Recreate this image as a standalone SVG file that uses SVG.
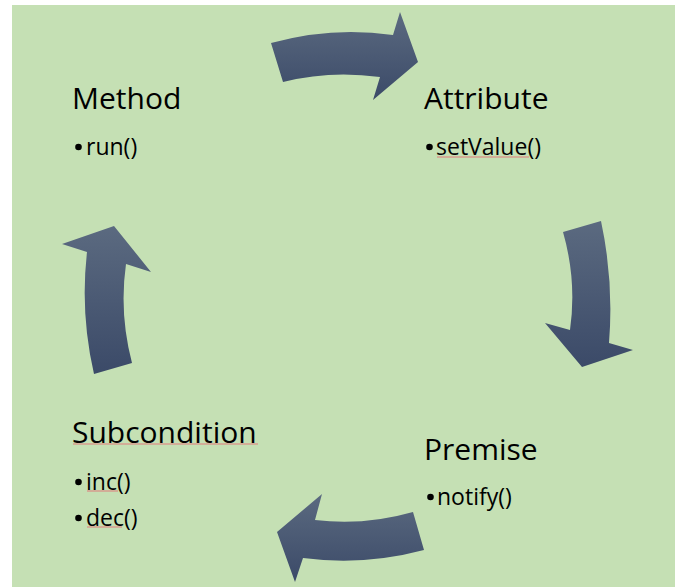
<svg xmlns="http://www.w3.org/2000/svg" width="675" height="587" viewBox="0 0 675 587">
<defs>
<linearGradient id="ag" x1="0" y1="0" x2="0" y2="1">
<stop offset="0" stop-color="#5b6a80"/>
<stop offset="1" stop-color="#3b4a68"/>
</linearGradient>
<style>
.h{font-family:"Open Sans","Liberation Sans",sans-serif;font-size:30px;fill:#000}
.b{font-family:"Open Sans","Liberation Sans",sans-serif;font-size:23px;fill:#000}
.dot{fill:#000}
.arr{fill:url(#ag)}
.sq{stroke:#e07a7a;stroke-width:1;fill:none}
</style>
</defs>
<rect x="0" y="0" width="675" height="587" fill="#ffffff"/>
<rect x="12" y="5" width="663" height="582" fill="#c5e0b4"/>
<g id="connectors">
<path class="arr" d="M 271 43 Q 332 26 393 35 L 400 12 L 418 62 L 373 100 L 380 77 Q 330 70 283 82 Z"/>
<path class="arr" d="M 563 232 L 601 221 Q 614 282 609 343 L 633 350 L 582 367 L 545 323 L 570 330 Q 577 281 563 232 Z"/>
<path class="arr" d="M 413 512 L 424 550 Q 364 566 303 558 L 295 582 L 277 532 L 322 494 L 315 520 Q 364 526 413 512 Z"/>
<path class="arr" d="M 94 374 L 132 363 Q 119 313 126 264 L 151 272 L 114 226 L 62 244 L 87 252 Q 80 313 94 374 Z"/>
</g>
<g id="method">
<text class="h" x="72" y="109">Method</text>
<circle class="dot" cx="78.5" cy="147" r="3.3"/>
<text class="b" x="86" y="155">run()</text>
</g>
<g id="attribute">
<text class="h" x="424" y="109">Attribute</text>
<circle class="dot" cx="429.5" cy="147" r="3.3"/>
<text class="b" x="436" y="155">setValue()</text>
<line class="sq" x1="437" y1="157" x2="529" y2="157"/>
</g>
<g id="premise">
<text class="h" x="424" y="460">Premise</text>
<circle class="dot" cx="430.5" cy="497" r="3.3"/>
<text class="b" x="437" y="505">notify()</text>
</g>
<g id="subcondition">
<text class="h" x="72" y="443">Subcondition</text>
<line class="sq" x1="73" y1="444" x2="258" y2="444"/>
<circle class="dot" cx="78.5" cy="482" r="3.3"/>
<text class="b" x="86" y="490">inc()</text>
<line class="sq" x1="87" y1="491" x2="118" y2="491"/>
<circle class="dot" cx="78.5" cy="518" r="3.3"/>
<text class="b" x="86" y="526">dec()</text>
<line class="sq" x1="87" y1="527" x2="122" y2="527"/>
</g>
</svg>
